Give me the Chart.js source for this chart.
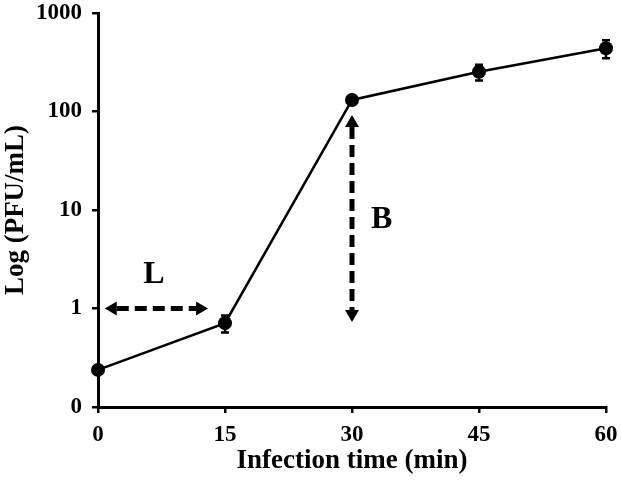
<!DOCTYPE html>
<html>
<head>
<meta charset="utf-8">
<script src="https://cdn.jsdelivr.net/npm/chart.js@4"></script>
<style>
  html, body { margin: 0; padding: 0; background: #fff; }
  #wrap { width: 622px; height: 484px; }
</style>
</head>
<body>
<div id="wrap"><canvas id="growthChart" width="622" height="484"></canvas></div>
<script>
const times = [0, 15, 30, 45, 60];
const pfu = [0.238, 0.71, 131, 253, 438];
const pfuErr = [0, 0.14, 0, 46, 90];
const yTicks = [0.1, 1, 10, 100, 1000];
const yTickLabels = ['0', '1', '10', '100', '1000'];
const xTicks = [0, 15, 30, 45, 60];

const fontFamily = '"Liberation Serif", "Times New Roman", serif';
const ink = '#000';

// latent (L) and burst (B) arrows, in data units
const arrowL = { x0: 0.8, x1: 13, y: 1 };
const arrowB = { x: 30, y0: 92, y1: 0.73 };

function drawArrow(ctx, x0, y0, x1, y1) {
    const ang = Math.atan2(y1 - y0, x1 - x0);
    const head = 12, half = 7;
    ctx.save();
    ctx.strokeStyle = ink;
    ctx.fillStyle = ink;
    ctx.lineWidth = 5;
    ctx.setLineDash([12, 6]);
    ctx.beginPath();
    ctx.moveTo(x0 + Math.cos(ang) * head, y0 + Math.sin(ang) * head);
    ctx.lineTo(x1 - Math.cos(ang) * head, y1 - Math.sin(ang) * head);
    ctx.stroke();
    ctx.setLineDash([]);
    [[x0, y0, ang + Math.PI], [x1, y1, ang]].forEach(([tx, ty, a]) => {
        ctx.beginPath();
        ctx.moveTo(tx, ty);
        ctx.lineTo(tx - Math.cos(a) * head - Math.sin(a) * half, ty - Math.sin(a) * head + Math.cos(a) * half);
        ctx.lineTo(tx - Math.cos(a) * head + Math.sin(a) * half, ty - Math.sin(a) * head - Math.cos(a) * half);
        ctx.closePath();
        ctx.fill();
    });
    ctx.restore();
}

const extras = {
    id: 'extras',
    afterDatasetsDraw(chart) {
        const { ctx, scales: { x, y } } = chart;
        // error bars
        ctx.save();
        ctx.strokeStyle = ink;
        ctx.lineWidth = 2.5;
        times.forEach((t, i) => {
            if (!pfuErr[i]) return;
            const px = x.getPixelForValue(t);
            const top = y.getPixelForValue(pfu[i] + pfuErr[i]);
            const bot = y.getPixelForValue(pfu[i] - pfuErr[i]);
            ctx.beginPath();
            ctx.moveTo(px, top); ctx.lineTo(px, bot);
            ctx.moveTo(px - 4, top); ctx.lineTo(px + 4, top);
            ctx.moveTo(px - 4, bot); ctx.lineTo(px + 4, bot);
            ctx.stroke();
        });
        ctx.restore();

        drawArrow(ctx, x.getPixelForValue(arrowL.x0), y.getPixelForValue(arrowL.y),
                  x.getPixelForValue(arrowL.x1), y.getPixelForValue(arrowL.y));
        drawArrow(ctx, x.getPixelForValue(arrowB.x), y.getPixelForValue(arrowB.y0),
                  x.getPixelForValue(arrowB.x), y.getPixelForValue(arrowB.y1));

        ctx.save();
        ctx.fillStyle = ink;
        ctx.font = 'bold 32px ' + fontFamily;
        ctx.textAlign = 'center';
        ctx.textBaseline = 'middle';
        ctx.fillText('L', x.getPixelForValue(6.6), y.getPixelForValue(2.2));
        ctx.fillText('B', x.getPixelForValue(33.5), y.getPixelForValue(8));
        ctx.restore();
    }
};

new Chart(document.getElementById('growthChart').getContext('2d'), {
    type: 'line',
    data: {
        datasets: [{
            data: times.map((t, i) => ({ x: t, y: pfu[i] })),
            borderColor: ink,
            backgroundColor: ink,
            borderWidth: 2.5,
            pointRadius: 7,
            pointBackgroundColor: ink,
            pointBorderWidth: 0,
            tension: 0,
            fill: false,
            clip: false
        }]
    },
    options: {
        responsive: false,
        animation: false,
        layout: { padding: { top: 13, right: 16, left: 0, bottom: 0 } },
        plugins: { legend: { display: false }, tooltip: { enabled: false } },
        scales: {
            x: {
                type: 'linear',
                min: 0,
                max: 60,
                afterBuildTicks: s => { s.ticks = xTicks.map(v => ({ value: v })); },
                afterFit: s => { s.height = 77; s.paddingLeft = 0; s.paddingRight = 0; },
                ticks: { color: ink, padding: 8, font: { family: fontFamily, size: 23, weight: 'bold' } },
                grid: { display: true, drawOnChartArea: false, drawTicks: true, tickLength: 6, color: ink, lineWidth: 2.5 },
                border: { color: ink, width: 3 },
                title: { display: true, text: 'Infection time (min)', color: ink, padding: { top: 0, bottom: 7 }, font: { family: fontFamily, size: 27, weight: 'bold' } }
            },
            y: {
                type: 'logarithmic',
                min: 0.1,
                max: 1000,
                afterBuildTicks: s => { s.ticks = yTicks.map(v => ({ value: v })); },
                afterFit: s => { s.width = 98; s.paddingTop = 0; s.paddingBottom = 0; },
                ticks: {
                    color: ink,
                    padding: 10,
                    font: { family: fontFamily, size: 23, weight: 'bold' },
                    callback: v => yTickLabels[yTicks.indexOf(v)]
                },
                grid: { display: true, drawOnChartArea: false, drawTicks: true, tickLength: 6, color: ink, lineWidth: 2.5 },
                border: { color: ink, width: 3 },
                title: { display: true, text: 'Log (PFU/mL)', color: ink, padding: 0, font: { family: fontFamily, size: 27, weight: 'bold' } }
            }
        }
    },
    plugins: [extras]
});
</script>
</body>
</html>
